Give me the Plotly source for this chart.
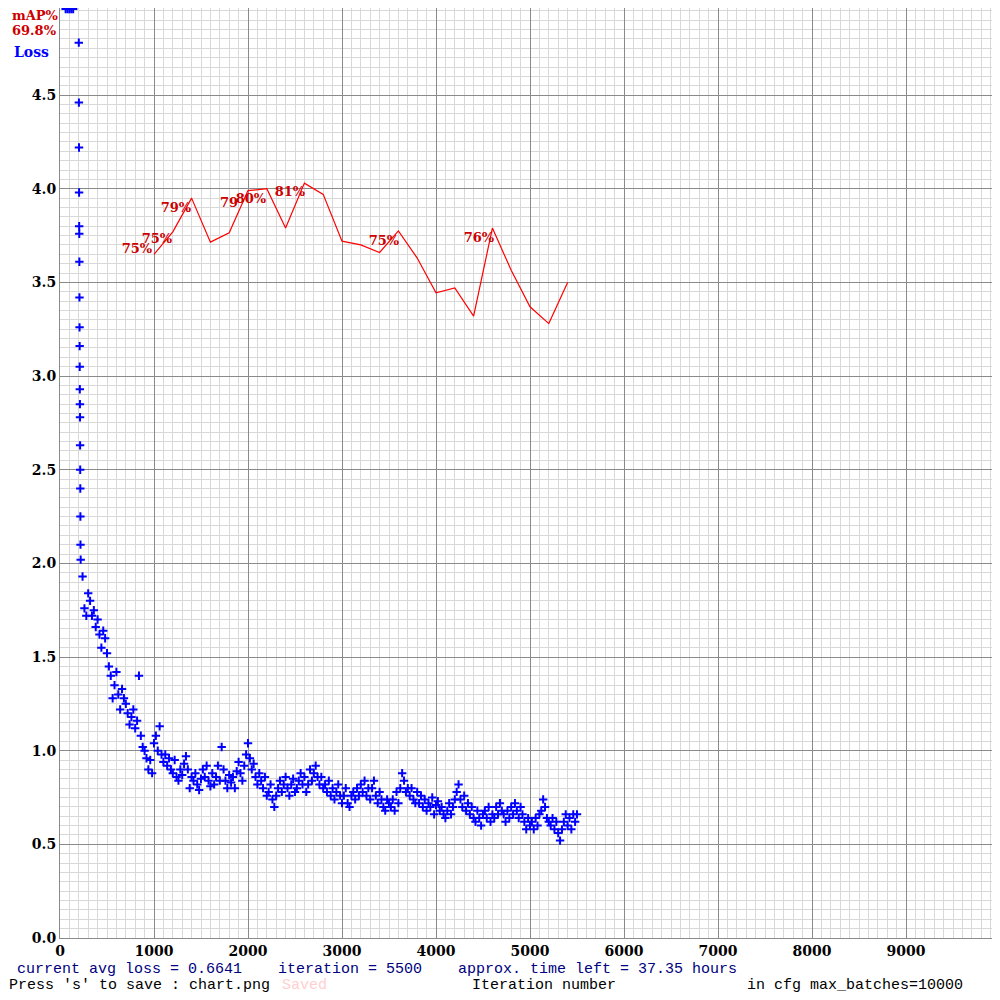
import plotly.graph_objects as go

# early steep loss values (vertical column near iteration 200)
early_iter = [60, 80, 100, 120, 140, 200, 201, 202, 203, 204, 205, 206, 207, 208, 209, 210, 211, 212, 213, 214, 215, 216, 217, 218]
early_loss = [4.96, 4.96, 4.96, 4.96, 4.96, 4.78, 4.46, 4.22, 3.98, 3.80, 3.76, 3.61, 3.42, 3.26, 3.16, 3.05, 2.93, 2.85, 2.78, 2.63, 2.50, 2.40, 2.25, 2.10]

loss_start = 220
loss_step = 20
loss_vals = [
    2.02, 1.93, 1.76, 1.72, 1.84,
    1.80, 1.72, 1.75, 1.66, 1.70,
    1.62, 1.55, 1.64, 1.60, 1.52,
    1.45, 1.40, 1.28, 1.35, 1.42,
    1.30, 1.22, 1.33, 1.28, 1.25,
    1.20, 1.14, 1.18, 1.22, 1.12,
    1.16, 1.40, 1.08, 1.02, 1.00,
    0.96, 0.90, 0.95, 0.88, 1.04,
    1.08, 1.00, 1.13, 0.98, 0.94,
    0.98, 0.92, 0.96, 0.90, 0.88,
    0.95, 0.86, 0.84, 0.90, 0.87,
    0.93, 0.97, 0.90, 0.80, 0.86,
    0.84, 0.88, 0.82, 0.79, 0.85,
    0.90, 0.86, 0.92, 0.84, 0.81,
    0.88, 0.82, 0.86, 0.92, 0.84,
    1.02, 0.90, 0.84, 0.80, 0.87,
    0.83, 0.86, 0.80, 0.89, 0.94,
    0.88, 0.84, 0.92, 0.98, 1.04,
    0.96, 0.90, 0.93, 0.86, 0.82,
    0.88, 0.84, 0.80, 0.86, 0.76,
    0.78, 0.82, 0.74, 0.70, 0.76,
    0.80, 0.84, 0.78, 0.82, 0.86,
    0.80, 0.76, 0.82, 0.85, 0.78,
    0.80, 0.84, 0.88, 0.82, 0.86,
    0.78, 0.82, 0.90, 0.84, 0.88,
    0.92, 0.86, 0.82, 0.86, 0.80,
    0.82, 0.78, 0.84, 0.76, 0.80,
    0.74, 0.78, 0.82, 0.76, 0.72,
    0.76, 0.80, 0.72, 0.70, 0.76,
    0.78, 0.74, 0.80, 0.76, 0.82,
    0.78, 0.84, 0.76, 0.80, 0.74,
    0.80, 0.84, 0.76, 0.72, 0.78,
    0.74, 0.70, 0.68, 0.74, 0.72,
    0.70, 0.74, 0.68, 0.78, 0.72,
    0.80, 0.88, 0.84, 0.78, 0.80,
    0.76, 0.80, 0.74, 0.72, 0.78,
    0.72, 0.76, 0.70, 0.74, 0.68,
    0.72, 0.70, 0.75, 0.66, 0.71,
    0.73, 0.68, 0.70, 0.66, 0.64,
    0.68, 0.72, 0.66, 0.70, 0.74,
    0.78, 0.82, 0.74, 0.70, 0.76,
    0.68, 0.72, 0.66, 0.70, 0.64,
    0.62, 0.68, 0.64, 0.60, 0.66,
    0.68, 0.64, 0.70, 0.62, 0.66,
    0.64, 0.70, 0.66, 0.72, 0.68,
    0.66, 0.62, 0.68, 0.64, 0.70,
    0.66, 0.72, 0.68, 0.64, 0.70,
    0.66, 0.62, 0.58, 0.64, 0.60,
    0.62, 0.58, 0.64, 0.60, 0.66,
    0.68, 0.74, 0.70, 0.64, 0.62,
    0.60, 0.64, 0.58, 0.62, 0.56,
    0.52, 0.58, 0.62, 0.66, 0.60,
    0.64, 0.58, 0.66, 0.62, 0.66,
]
loss_iter = [loss_start + loss_step * i for i in range(len(loss_vals))]

# mAP line (in % ; plotted on loss scale: 100% == 5.0)
map_iter = [1000, 1200, 1400, 1600, 1800, 2000, 2200, 2400, 2600, 2800, 3000, 3200, 3400,
            3600, 3800, 4000, 4200, 4400, 4600, 4800, 5000, 5200, 5400]
map_pct = [73.0, 75.4, 79.0, 74.3, 75.3, 79.8, 80.0, 75.8, 80.6, 79.4, 74.4, 74.0, 73.2,
           75.5, 72.6, 68.9, 69.4, 66.4, 75.8, 71.3, 67.4, 65.6, 70.0]
# mAP value labels (text centre, in iteration / loss-scale units)
map_label_x = [819, 1032, 1234, 1798, 2032, 2447, 3447, 4457]
map_label_y = [3.673, 3.727, 3.892, 3.919, 3.94, 3.978, 3.716, 3.732]
map_label_text = ["75%", "75%", "79%", "79", "80%", "81%", "75%", "76%"]

x_ticks = [0, 1000, 2000, 3000, 4000, 5000, 6000, 7000, 8000, 9000, 10000]
x_tick_text = ["0", "1000", "2000", "3000", "4000", "5000", "6000", "7000", "8000", "9000", "10"]
y_ticks = [0.0, 0.5, 1.0, 1.5, 2.0, 2.5, 3.0, 3.5, 4.0, 4.5]

SCALE = 5.0 / 100.0
FONT = "DejaVu Serif"

fig = go.Figure()
fig.add_trace(go.Scatter(x=early_iter + loss_iter, y=early_loss + loss_vals, mode="markers",
                         marker=dict(symbol="cross-thin", size=6, line=dict(width=2, color="#0000ff")),
                         cliponaxis=True, showlegend=False))
fig.add_trace(go.Scatter(x=map_iter, y=[p * SCALE for p in map_pct], mode="lines",
                         line=dict(color="#ff0000", width=1.2), showlegend=False))
fig.add_trace(go.Scatter(x=map_label_x, y=map_label_y, mode="text",
                         text=map_label_text, texttemplate="<b>%{text}</b>", textposition="middle center",
                         textfont=dict(family=FONT, size=13, color="#cc0000"), showlegend=False))

fig.update_xaxes(range=[0, 10000], tickvals=x_ticks, ticktext=[f"<b>{t}</b>" for t in x_tick_text],
                 showgrid=True, gridcolor="#8a8a8a", gridwidth=1,
                 minor=dict(dtick=100, showgrid=True, gridcolor="#d8d8d8", gridwidth=1),
                 zeroline=False, showline=True, linecolor="#8a8a8a", automargin=False,
                 tickfont=dict(family=FONT, size=14, color="black"), ticks="")
fig.update_yaxes(range=[0, 4.965], tickvals=y_ticks, ticktext=[f"<b>{v:.1f}</b>" for v in y_ticks],
                 showgrid=True, gridcolor="#8a8a8a", gridwidth=1,
                 minor=dict(dtick=0.05, showgrid=True, gridcolor="#d8d8d8", gridwidth=1),
                 zeroline=False, showline=True, linecolor="#8a8a8a", automargin=False,
                 tickfont=dict(family=FONT, size=14, color="black"), ticks="")

anns = [
    dict(x=10, y=16, text="<b>mAP%</b>", color="#cc0000", font=FONT, size=13),
    dict(x=10, y=30, text="<b>69.8%</b>", color="#cc0000", font=FONT, size=13),
    dict(x=12, y=52, text="<b>Loss</b>", color="#0000ff", font=FONT, size=14),
    dict(x=15, y=969, text="current avg loss = 0.6641    iteration = 5500    approx. time left = 37.35 hours", color="#000080", font="Liberation Mono", size=15),
    dict(x=7, y=986, text="Press 's' to save : chart.png", color="black", font="Liberation Mono", size=15),
    dict(x=280, y=986, text="Saved", color="#ffd0d0", font="Liberation Mono", size=15),
    dict(x=470, y=986, text="Iteration number", color="black", font="Liberation Mono", size=15),
    dict(x=745, y=986, text="in cfg max_batches=10000", color="black", font="Liberation Mono", size=15),
]
annotations = []
for a in anns:
    annotations.append(dict(xref="paper", yref="paper", x=(a["x"] - 60) / 940.0,
                            y=(938 - a["y"]) / 930.0, xanchor="left", yanchor="middle",
                            text=a["text"], showarrow=False,
                            font=dict(family=a["font"], size=a["size"], color=a["color"])))

fig.update_layout(width=1000, height=1000, margin=dict(l=52, r=8, t=0, b=70, autoexpand=False),
                  paper_bgcolor="white", plot_bgcolor="white", annotations=annotations)
fig.write_html("out.html")
